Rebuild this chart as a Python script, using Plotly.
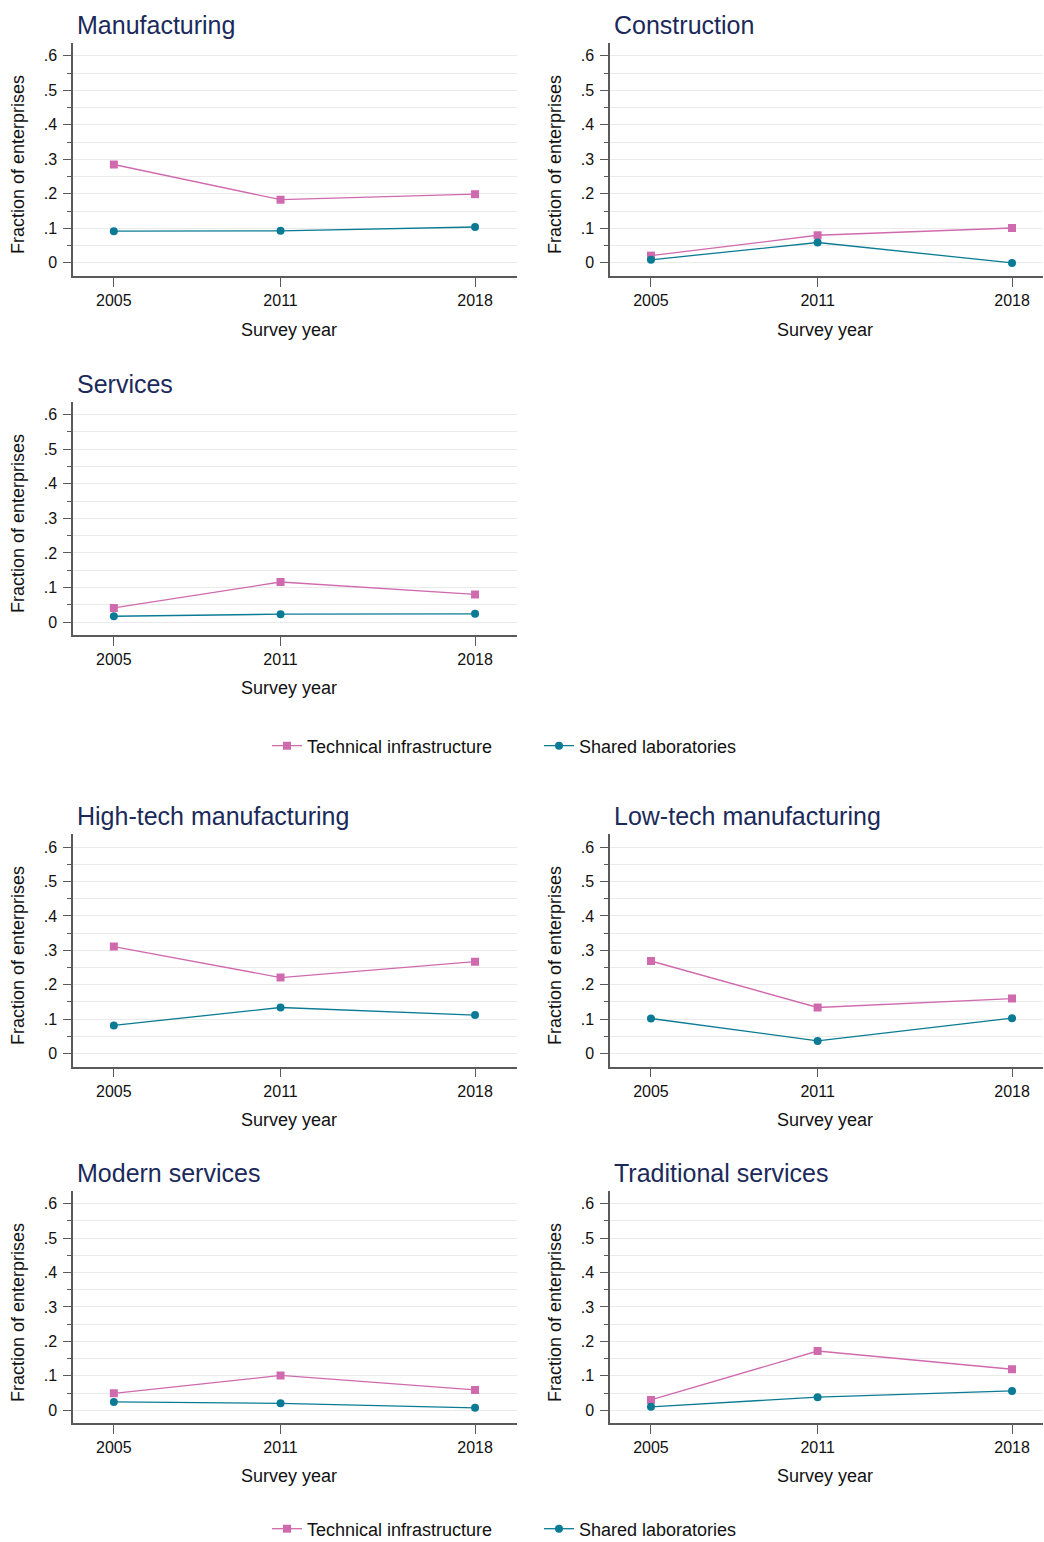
import plotly.graph_objects as go

# ---------------- data ----------------
years = [2005, 2011, 2018]
series_names = ["Technical infrastructure", "Shared laboratories"]
panel_titles = ["Manufacturing", "Construction", "Services",
                "High-tech manufacturing", "Low-tech manufacturing",
                "Modern services", "Traditional services"]

ti_manufacturing = [0.285, 0.183, 0.199]
sl_manufacturing = [0.092, 0.093, 0.104]
ti_construction = [0.021, 0.080, 0.101]
sl_construction = [0.009, 0.059, 0.000]
ti_services = [0.041, 0.116, 0.080]
sl_services = [0.017, 0.023, 0.024]
ti_hightech = [0.311, 0.221, 0.267]
sl_hightech = [0.082, 0.134, 0.112]
ti_lowtech = [0.269, 0.134, 0.160]
sl_lowtech = [0.102, 0.037, 0.103]
ti_modern = [0.049, 0.101, 0.059]
sl_modern = [0.024, 0.020, 0.007]
ti_traditional = [0.030, 0.172, 0.119]
sl_traditional = [0.010, 0.038, 0.056]

y_tickvals = [0, 0.1, 0.2, 0.3, 0.4, 0.5, 0.6]
y_ticktext = ["0", ".1", ".2", ".3", ".4", ".5", ".6"]
y_minorvals = [0.05, 0.15, 0.25, 0.35, 0.45, 0.55]
x_ticktext = ["2005", "2011", "2018"]
y_title = "Fraction of enterprises"
x_title = "Survey year"

panel_ti = [ti_manufacturing, ti_construction, ti_services, ti_hightech,
            ti_lowtech, ti_modern, ti_traditional]
panel_sl = [sl_manufacturing, sl_construction, sl_services, sl_hightech,
            sl_lowtech, sl_modern, sl_traditional]

# ---------------- layout (pixels) ----------------
W, H = 1044, 1542
# left, right, top, bottom of plot region; title y; ytitle x,y; xtitle x,y
geom = [
    (73, 517, 43, 276.0, 25, 18, 165, 289, 330),
    (610, 1043, 43, 276.0, 25, 555, 165, 825, 330),
    (73, 517, 401.7, 635.3, 384, 18, 524, 289, 688),
    (73, 517, 834.3, 1066.7, 816, 18, 956, 289, 1120),
    (610, 1043, 834.3, 1066.7, 816, 555, 956, 825, 1120),
    (73, 517, 1191, 1423.3, 1173, 18, 1313, 289, 1476),
    (610, 1043, 1191, 1423.3, 1173, 555, 1313, 825, 1476),
]
x_ranges = [(2003.53, 2019.51), (2003.525, 2019.115)]

PINK = "#d06aae"
TEAL = "#0b7b95"
TITLE_C = "#1b2a5a"
AXIS_C = "#5a5a5a"
GRID_C = "#eaeaea"
FONT = "Liberation Sans, Arial, sans-serif"

fig = go.Figure()
annotations = []

def px_x(v):
    return v / W

def px_y(v):
    return 1 - v / H

legend_map = {0: ("legend", "legend2"), 3: ("legend3", "legend4")}

for i, (title, ti, sl) in enumerate(zip(panel_titles, panel_ti, panel_sl)):
    L, R, T, B, ty, ytx, yty, xtx, xty = geom[i]
    n = "" if i == 0 else str(i + 1)
    xa, ya = "x" + n, "y" + n
    show = i in legend_map
    lg = legend_map.get(i, ("legend", "legend2"))
    fig.add_trace(go.Scatter(
        x=years, y=ti, mode="lines+markers", name=series_names[0],
        line=dict(color=PINK, width=1.3),
        marker=dict(symbol="square", size=8, color=PINK),
        xaxis=xa, yaxis=ya, showlegend=show, legend=lg[0]))
    fig.add_trace(go.Scatter(
        x=years, y=sl, mode="lines+markers", name=series_names[1],
        line=dict(color=TEAL, width=1.3),
        marker=dict(symbol="circle", size=8, color=TEAL),
        xaxis=xa, yaxis=ya, showlegend=show, legend=lg[1]))

    xr = x_ranges[0] if L < 500 else x_ranges[1]
    fig.layout["xaxis" + n] = dict(
        domain=[px_x(L), px_x(R)], anchor=ya, range=list(xr),
        tickmode="array", tickvals=years, ticktext=x_ticktext,
        ticks="outside", ticklen=9, tickcolor=AXIS_C, tickwidth=1.3,
        showline=True, linecolor=AXIS_C, linewidth=1.5,
        showgrid=False, zeroline=False,
        tickfont=dict(size=16, color="#111111", family=FONT),
        ticklabelstandoff=0,
    )
    fig.layout["yaxis" + n] = dict(
        domain=[px_y(B), px_y(T)], anchor=xa, range=[-0.038, 0.637],
        tickmode="array", tickvals=y_tickvals, ticktext=y_ticktext,
        ticks="outside", ticklen=8, tickcolor=AXIS_C, tickwidth=1.3,
        showline=True, linecolor=AXIS_C, linewidth=1.5,
        showgrid=True, gridcolor=GRID_C, gridwidth=1, zeroline=False,
        tickfont=dict(size=16, color="#111111", family=FONT),
        ticklabelstandoff=3,
        minor=dict(tickmode="array", tickvals=y_minorvals, ticks="outside",
                   ticklen=4, tickcolor=AXIS_C, tickwidth=1.3,
                   showgrid=True, gridcolor=GRID_C, gridwidth=1),
    )
    annotations.append(dict(
        text=title, x=px_x(L + 2), y=px_y(ty), xref="paper", yref="paper",
        xanchor="left", yanchor="middle", showarrow=False,
        font=dict(size=25, color=TITLE_C, family=FONT)))
    annotations.append(dict(
        text=y_title, x=px_x(ytx), y=px_y(yty), xref="paper", yref="paper",
        xanchor="center", yanchor="middle", showarrow=False, textangle=-90,
        font=dict(size=18, color="#111111", family=FONT)))
    annotations.append(dict(
        text=x_title, x=px_x(xtx), y=px_y(xty), xref="paper", yref="paper",
        xanchor="center", yanchor="middle", showarrow=False,
        font=dict(size=18, color="#111111", family=FONT)))

leg_common = dict(orientation="h", xanchor="left", yanchor="middle",
                  bgcolor="rgba(0,0,0,0)", borderwidth=0,
                  font=dict(size=18, color="#111111", family=FONT),
                  itemwidth=30)

fig.update_layout(
    width=W, height=H,
    margin=dict(l=0, r=0, t=0, b=0, autoexpand=False),
    paper_bgcolor="white", plot_bgcolor="white",
    font=dict(family=FONT),
    annotations=annotations,
    legend=dict(x=px_x(267), y=px_y(746), **leg_common),
    legend2=dict(x=px_x(539), y=px_y(746), **leg_common),
    legend3=dict(x=px_x(267), y=px_y(1529), **leg_common),
    legend4=dict(x=px_x(539), y=px_y(1529), **leg_common),
)

fig.write_html("out.html",
               config={"displayModeBar": False},
               post_script="document.body.style.margin='0';"
                           "document.body.style.overflow='hidden';")
